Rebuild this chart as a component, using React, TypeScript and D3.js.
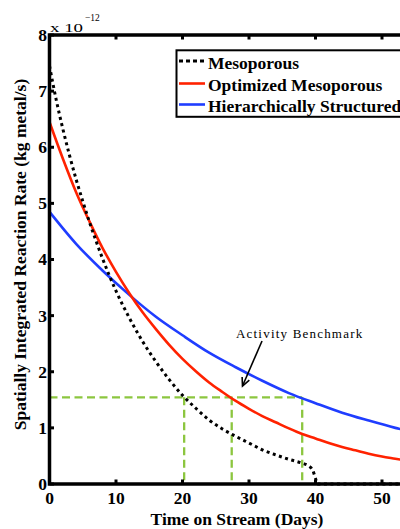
import React from 'react';
import * as d3 from 'd3';

const xTicks = [0, 10, 20, 30, 40, 50, 60];
const xTickLabels = ['0', '10', '20', '30', '40', '50'];
const yTicks = [0, 1, 2, 3, 4, 5, 6, 7, 8];

const mesoT = [0, 1, 2, 3, 4, 5, 6, 7, 8, 10, 12, 14, 16, 18, 20, 22, 24, 26, 28, 30, 32, 34, 36, 38, 39, 39.6, 40, 40.3, 60];
const mesoV = [7.45, 6.85, 6.33, 5.86, 5.43, 5.04, 4.67, 4.33, 4.01, 3.44, 2.96, 2.54, 2.18, 1.86, 1.58, 1.35, 1.14, 0.98, 0.85, 0.73, 0.61, 0.52, 0.44, 0.37, 0.32, 0.24, 0.1, 0, 0];

const optT = [0, 2, 4, 6, 8, 10, 12, 14, 16, 18, 20, 22, 24, 26, 28, 30, 32, 34, 36, 38, 40, 42, 44, 46, 48, 50, 52, 54, 60];
const optV = [6.45, 5.8, 5.2, 4.68, 4.2, 3.78, 3.4, 3.06, 2.76, 2.48, 2.23, 2.01, 1.81, 1.64, 1.48, 1.34, 1.21, 1.1, 0.99, 0.89, 0.81, 0.73, 0.66, 0.6, 0.54, 0.49, 0.45, 0.41, 0.31];

const hierT = [0, 4, 8, 12, 16, 20, 24, 28, 32, 36, 40, 44, 48, 52, 56, 60];
const hierV = [4.85, 4.28, 3.8, 3.37, 2.98, 2.65, 2.34, 2.08, 1.84, 1.62, 1.44, 1.27, 1.13, 1.0, 0.89, 0.79];

const benchmarkRate = 1.545;
const benchmarkDays = [20.25, 27.4, 38];

const legendLabels = ['Mesoporous', 'Optimized Mesoporous', 'Hierarchically Structured'];

const RED = '#ff2200';
const BLUE = '#1f3dff';
const GREEN = '#8cc63f';
const SERIF = '"Liberation Serif", "Times New Roman", serif';

export default function App() {
  const W = 400;
  const H = 529;
  const x = d3.scaleLinear().domain([0, 60]).range([49.5, 448.5]);
  const y = d3.scaleLinear().domain([0, 8]).range([484, 35]);

  const line = d3
    .line<[number, number]>()
    .x((d) => x(d[0]))
    .y((d) => y(d[1]))
    .curve(d3.curveMonotoneX);

  const zip = (t: number[], v: number[]) => t.map((d, i) => [d, v[i]] as [number, number]);

  const left = x(0);
  const right = x(60);
  const top = y(8);
  const bottom = y(0);

  const arrowStart = { x: 262, y: 341 };
  const arrowEnd = { x: 242.5, y: 386 };
  const ang = Math.atan2(arrowEnd.y - arrowStart.y, arrowEnd.x - arrowStart.x);
  const headLen = 9;
  const headA = 0.45;
  const h1 = [arrowEnd.x - headLen * Math.cos(ang - headA), arrowEnd.y - headLen * Math.sin(ang - headA)];
  const h2 = [arrowEnd.x - headLen * Math.cos(ang + headA), arrowEnd.y - headLen * Math.sin(ang + headA)];

  const legendRows = [61, 83.5, 104.5];
  const legendColors = ['#000', RED, BLUE];

  return (
    <svg
      width={W}
      height={H}
      style={{ position: 'absolute', left: 0, top: 0, background: '#fff' }}
      fontFamily={SERIF}
    >
      <rect x={0} y={0} width={W} height={H} fill="#fff" />
      {/* benchmark lines */}
      <g stroke={GREEN} strokeWidth={2.3} strokeDasharray="8 4.5" fill="none">
        <line x1={left} x2={x(benchmarkDays[2])} y1={y(benchmarkRate)} y2={y(benchmarkRate)} />
        {benchmarkDays.map((d) => (
          <line key={d} x1={x(d)} x2={x(d)} y1={y(benchmarkRate)} y2={bottom} />
        ))}
      </g>
      {/* series */}
      <path d={line(zip(hierT, hierV)) || ''} fill="none" stroke={BLUE} strokeWidth={2.6} />
      <path d={line(zip(optT, optV)) || ''} fill="none" stroke={RED} strokeWidth={2.6} />
      <path
        d={line(zip(mesoT, mesoV)) || ''}
        fill="none"
        stroke="#000"
        strokeWidth={3}
        strokeDasharray="3 3.5"
      />
      {/* axes box */}
      <rect x={left} y={top} width={right - left} height={bottom - top} fill="none" stroke="#000" strokeWidth={3.5} />
      {xTicks.map((t) => (
        <g key={'xt' + t}>
          <line x1={x(t)} x2={x(t)} y1={bottom} y2={bottom - 4.5} stroke="#000" strokeWidth={3} />
          <line x1={x(t)} x2={x(t)} y1={top} y2={top + 4.5} stroke="#000" strokeWidth={3} />
        </g>
      ))}
      {xTickLabels.map((lab) => (
        <text key={'xl' + lab} x={x(+lab)} y={504} textAnchor="middle" fontSize={17.5} fontWeight="bold">
          {lab}
        </text>
      ))}
      {yTicks.map((t) => (
        <g key={'yt' + t}>
          <line x1={left} x2={left + 4.5} y1={y(t)} y2={y(t)} stroke="#000" strokeWidth={3} />
          <text x={47} y={y(t)} dy="0.34em" textAnchor="end" fontSize={17.5} fontWeight="bold">
            {t}
          </text>
        </g>
      ))}
      {/* exponent */}
      <text x={50} y={31.7} fontSize={13} textLength={33} lengthAdjust="spacingAndGlyphs">
        x 10
      </text>
      <text x={85} y={21} fontSize={9.5}>
        −12
      </text>
      {/* axis labels */}
      <text x={237} y={525} textAnchor="middle" fontSize={17.5} fontWeight="bold">
        Time on Stream (Days)
      </text>
      <text
        transform="translate(26,254.5) rotate(-90)"
        textAnchor="middle"
        fontSize={17.5}
        fontWeight="bold"
      >
        Spatially Integrated Reaction Rate (kg metal/s)
      </text>
      {/* annotation */}
      <text x={236} y={338} fontSize={13} letterSpacing={1.2}>
        Activity Benchmark
      </text>
      <line x1={arrowStart.x} y1={arrowStart.y} x2={arrowEnd.x} y2={arrowEnd.y} stroke="#000" strokeWidth={1.6} />
      <polyline
        points={`${h1[0]},${h1[1]} ${arrowEnd.x},${arrowEnd.y} ${h2[0]},${h2[1]}`}
        fill="none"
        stroke="#000"
        strokeWidth={1.6}
      />
      {/* legend */}
      <rect x={176.5} y={50.3} width={260} height={66.5} fill="#fff" stroke="#000" strokeWidth={2} />
      {legendLabels.map((lab, i) => (
        <g key={lab}>
          <line
            x1={179}
            x2={205}
            y1={legendRows[i]}
            y2={legendRows[i]}
            stroke={legendColors[i]}
            strokeWidth={i === 0 ? 3 : 2.6}
            strokeDasharray={i === 0 ? '4 3' : undefined}
          />
          <text x={208} y={legendRows[i] + 2} dy="0.34em" fontSize={17.5} fontWeight="bold">
            {lab}
          </text>
        </g>
      ))}
    </svg>
  );
}
